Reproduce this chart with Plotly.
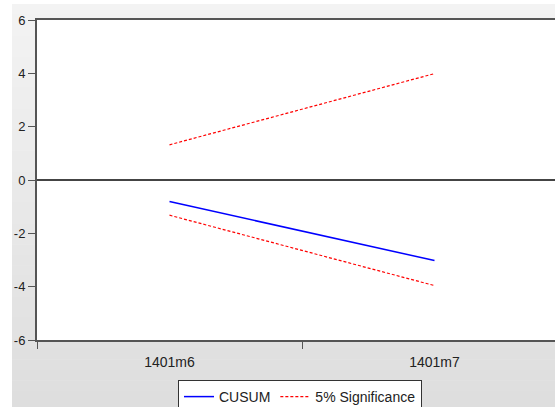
import plotly.graph_objects as go

periods = ["1401m6", "1401m7"]
period_pos = [1, 2]
cusum = [-0.81, -3.02]
upper_5pct = [1.32, 3.99]
lower_5pct = [-1.32, -3.96]
y_ticks = [-6, -4, -2, 0, 2, 4, 6]
y_tick_text = ["-6", "-4", "-2", "0", "2", "4", "6"]

W, H = 555, 422          # page window is 407 tall; the bottom is cropped like the reference
L, R, T, B = 37, 0, 20, H - 340
pw, ph = W - L - R, H - T - B

def px2x(px):
    return (px - L) / pw

def py2y(py):
    return (H - B - py) / ph

fig = go.Figure()
fig.add_trace(go.Scatter(x=period_pos, y=cusum, mode="lines", name="CUSUM",
                         line=dict(color="#0000ff", width=1.5)))
fig.add_trace(go.Scatter(x=period_pos, y=upper_5pct, mode="lines", name="5% Significance",
                         line=dict(color="#ff0000", width=1.2, dash="3px,2px")))
fig.add_trace(go.Scatter(x=period_pos, y=lower_5pct, mode="lines", name="5% Significance",
                         showlegend=False,
                         line=dict(color="#ff0000", width=1.2, dash="3px,2px")))

# gradient grey background
shapes = []
top_px, bot_px = 4, H
n = 40
c0, c1 = 0xf3, 0xdd
for i in range(n):
    a = top_px + (bot_px - top_px) * i / n
    b = top_px + (bot_px - top_px) * (i + 1) / n + 0.5
    c = int(round(c0 + (c1 - c0) * i / (n - 1)))
    col = "#%02x%02x%02x" % (c, c, c)
    shapes.append(dict(type="rect", xref="paper", yref="paper", layer="below",
                       x0=px2x(12), x1=px2x(W + 2), y0=py2y(b), y1=py2y(a),
                       fillcolor=col, line=dict(width=0)))
shapes.append(dict(type="rect", xref="paper", yref="paper", layer="below",
                   x0=0, x1=1.01, y0=0, y1=1, fillcolor="white", line=dict(width=0)))

fig.update_layout(
    width=W, height=H,
    margin=dict(l=L, r=R, t=T, b=B, pad=0),
    paper_bgcolor="white", plot_bgcolor="white",
    shapes=shapes,
    font=dict(family="Liberation Sans, Arial, sans-serif", size=14, color="#222222"),
    showlegend=True,
    legend=dict(orientation="h", x=px2x(300), xanchor="center", y=py2y(380), yanchor="top",
                bgcolor="white", bordercolor="#333333", borderwidth=1,
                font=dict(size=14, color="#222222"), itemwidth=30),
    xaxis=dict(range=[0.5, 0.5 + pw / 265.0], tickvals=period_pos, ticktext=periods,
               ticks="outside", ticklen=8, tickcolor="rgba(0,0,0,0)",
               showline=True, linecolor="#555555", linewidth=2, mirror=True,
               showgrid=False, zeroline=False,
               minor=dict(tickvals=[0.5, 1.5, 2.5], ticks="outside", ticklen=7,
                          tickcolor="#555555", tickwidth=1, showgrid=False),
               tickfont=dict(size=14, color="#222222")),
    yaxis=dict(range=[-6, 6], tickvals=y_ticks, ticktext=y_tick_text,
               ticks="outside", ticklen=7, tickcolor="#555555", tickwidth=1,
               showline=True, linecolor="#555555", linewidth=2, mirror=False,
               showgrid=False, zeroline=True, zerolinecolor="#444444", zerolinewidth=1.5,
               tickfont=dict(size=13, color="#222222")),
)

fig.write_html("out.html", config={"displayModeBar": False},
               post_script="document.body.style.margin='0';document.body.style.padding='0';"
                           "document.body.style.overflow='hidden';")
